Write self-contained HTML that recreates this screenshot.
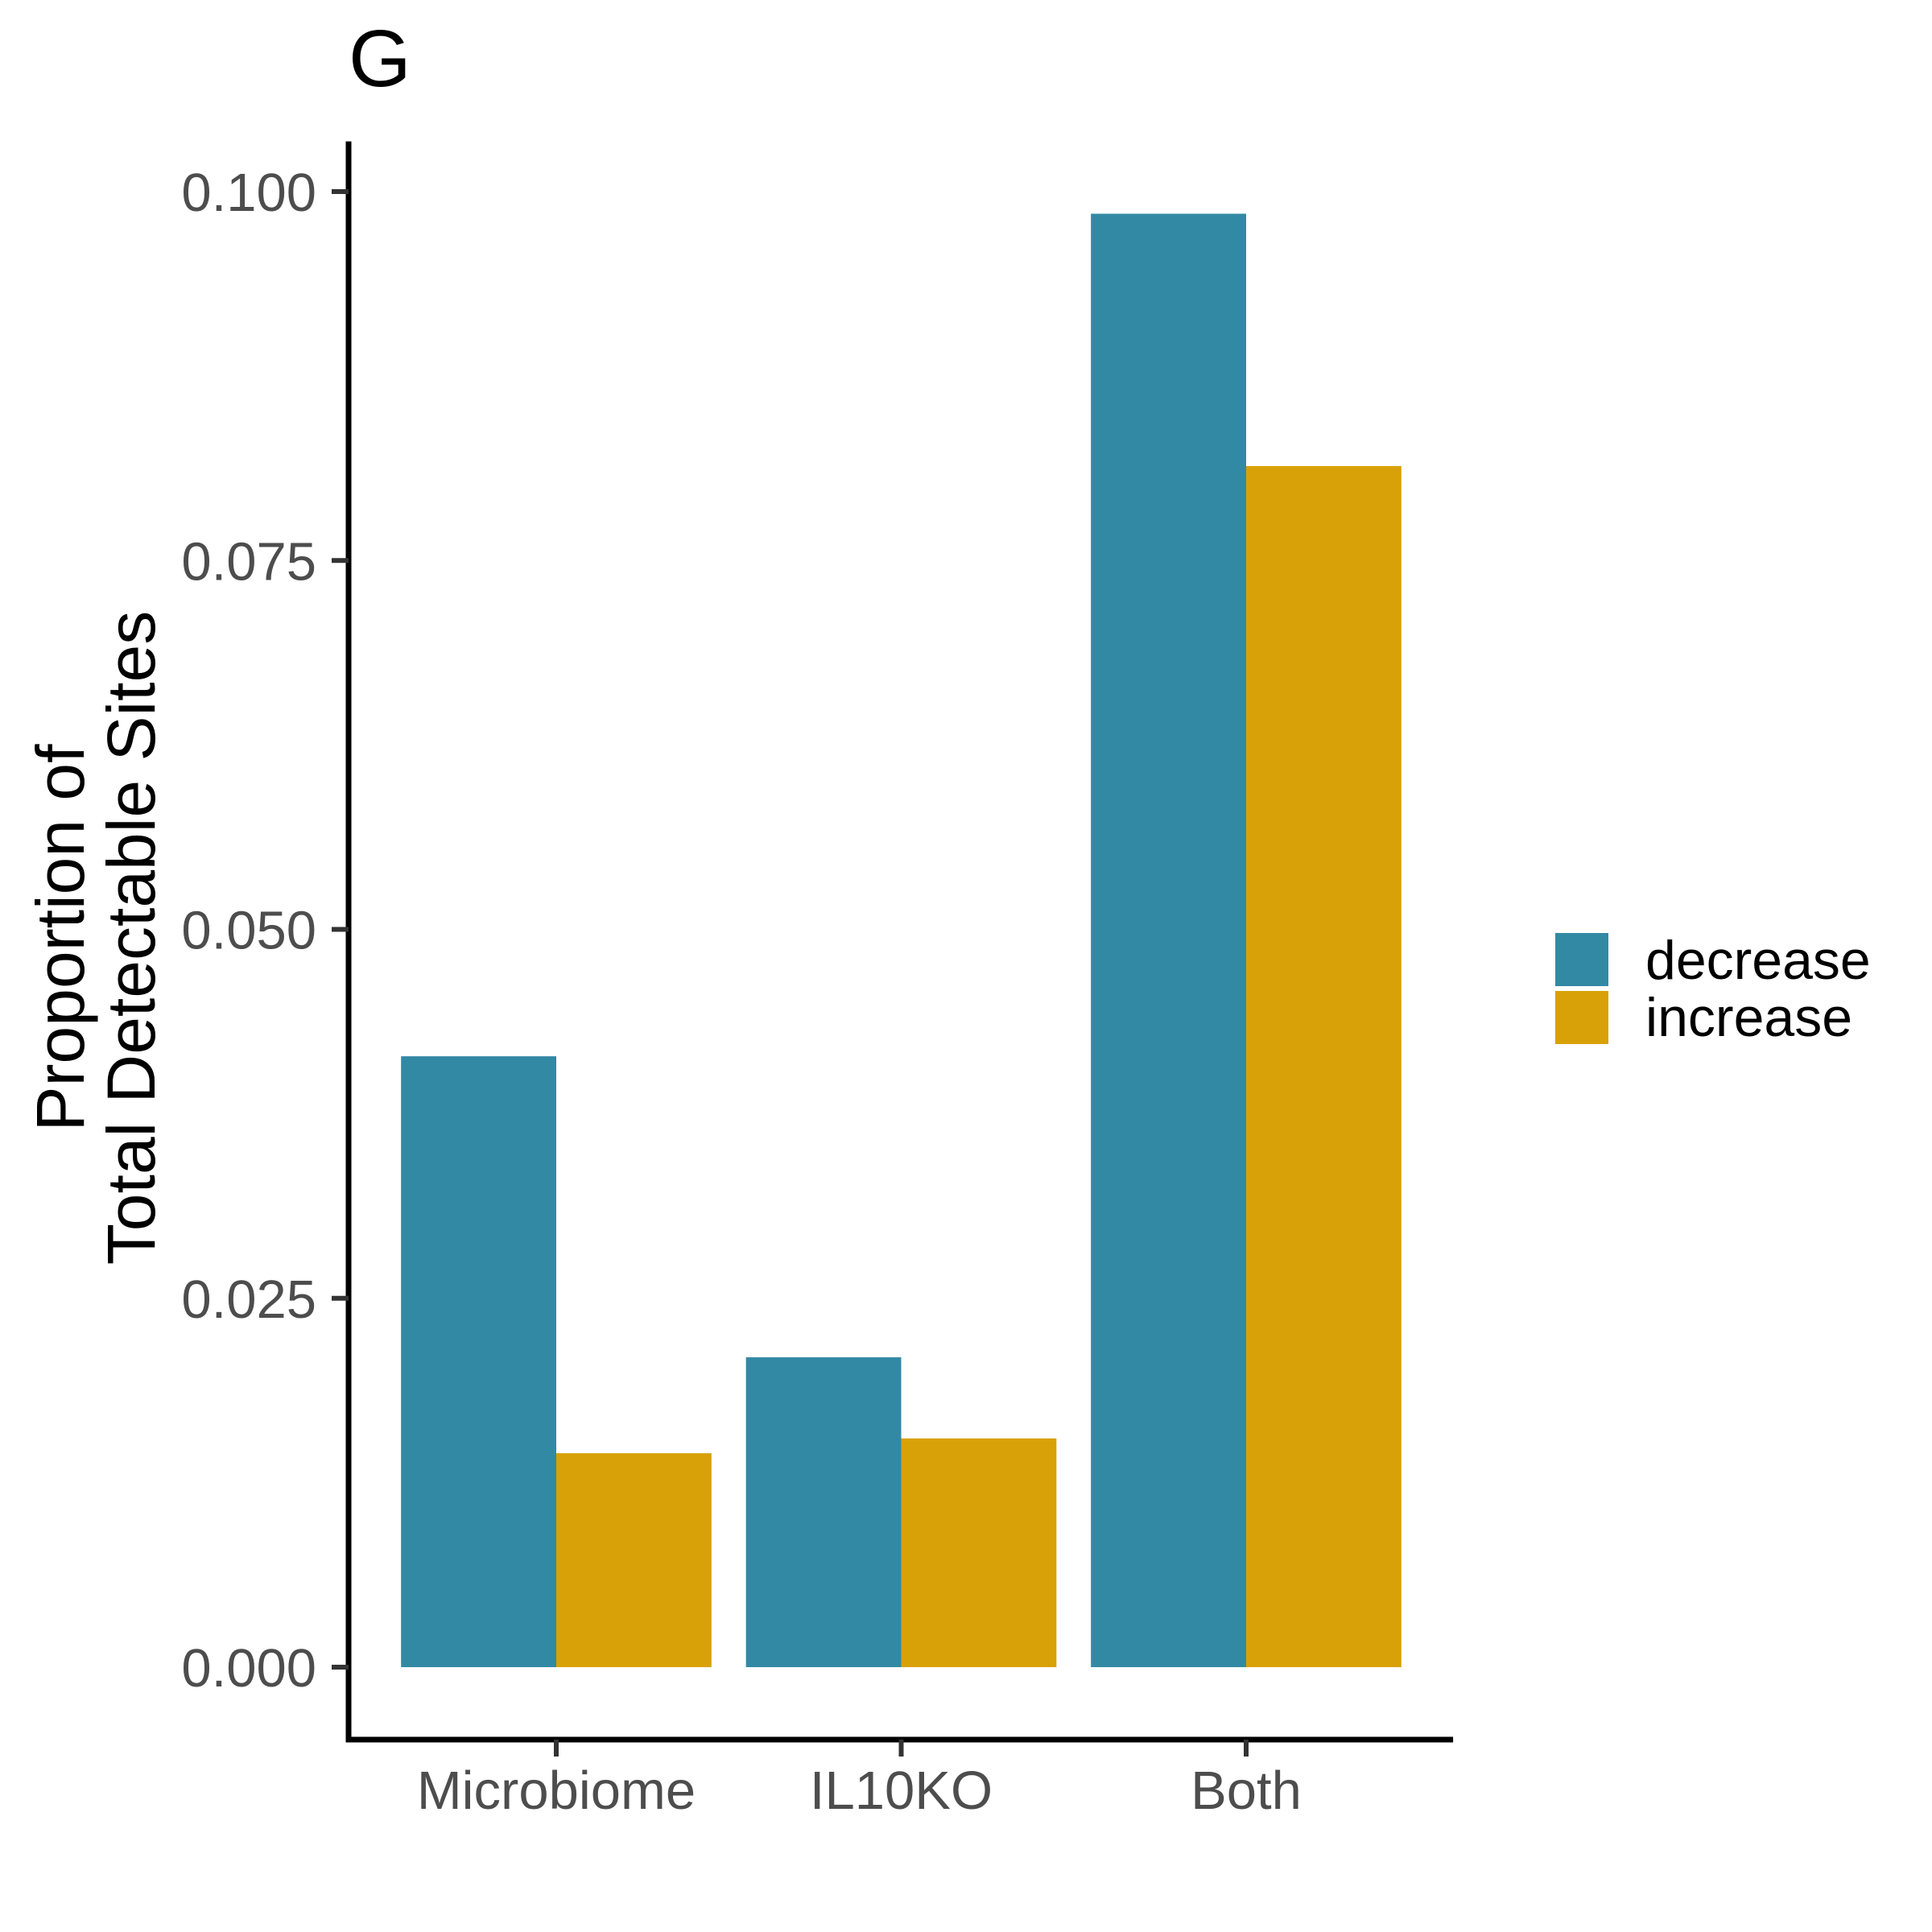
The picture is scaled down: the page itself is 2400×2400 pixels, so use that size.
<!DOCTYPE html>
<html><head><meta charset="utf-8"><style>
html,body{margin:0;padding:0;background:#fff;}
svg{display:block;}
text{font-family:"Liberation Sans",Arial,sans-serif;}
</style></head><body>
<svg id="chart" width="2400" height="2400" viewBox="0 0 2400 2400" xmlns="http://www.w3.org/2000/svg">
<rect x="0" y="0" width="2400" height="2400" fill="#ffffff"/>
<text x="433" y="107" font-size="100" fill="#000">G</text>
<g id="bars"></g>
<g id="axes"></g>
<g transform="translate(104,1165) rotate(-90)">
<text x="0" y="0" text-anchor="middle" font-size="84" fill="#000">Proportion of</text>
<text x="0" y="88" text-anchor="middle" font-size="84" fill="#000">Total Detectable Sites</text>
</g>
<g id="legend">
<rect x="1932" y="1159" width="66" height="66" fill="#3289A4"/>
<text x="2044" y="1216" font-size="68" fill="#000">decrease</text>
<rect x="1932" y="1231" width="66" height="66" fill="#D8A108"/>
<text x="2044" y="1287" font-size="68" fill="#000">increase</text>
</g>
</svg>
<script>
const categories = ["Microbiome", "IL10KO", "Both"];
const decreaseValues = [0.0414, 0.0210, 0.0985];
const increaseValues = [0.0145, 0.0155, 0.0814];
const yTicks = [0, 0.025, 0.05, 0.075, 0.1];
const yTickLabels = ["0.000", "0.025", "0.050", "0.075", "0.100"];

const NS = "http://www.w3.org/2000/svg";
const y0px = 2071, perUnit = 18330;
function yScale(v){ return y0px - v * perUnit; }
const cat1 = 691, catStep = 428.5;
function xScale(i){ return cat1 + i * catStep; }
const barW = 0.45 * catStep;

const bars = document.getElementById('bars');
function mk(tag, attrs, parent){
  const e = document.createElementNS(NS, tag);
  for (const k in attrs) e.setAttribute(k, attrs[k]);
  parent.appendChild(e);
  return e;
}
categories.forEach((c, i) => {
  const cx = xScale(i);
  const d = mk('rect', {x: cx - barW, y: yScale(decreaseValues[i]), width: barW, height: yScale(0) - yScale(decreaseValues[i]), fill: '#3289A4'}, bars);
  
  
  const inc = mk('rect', {x: cx, y: yScale(increaseValues[i]), width: barW, height: yScale(0) - yScale(increaseValues[i]), fill: '#D8A108'}, bars);
  
  
});

const axes = document.getElementById('axes');
const axisX = 433, axisBottom = 2161, axisTop = yScale(0.1034), axisRight = xScale(2) + 0.6 * catStep;
const yl = mk('line', {x1: axisX, y1: axisTop, x2: axisX, y2: axisBottom + 3.5, stroke: '#000', 'stroke-width': 7}, axes);


const xl = mk('line', {x1: axisX - 3.5, y1: axisBottom, x2: axisRight, y2: axisBottom, stroke: '#000', 'stroke-width': 7}, axes);



yTicks.forEach((v, i) => {
  const y = yScale(v);
  const t = mk('line', {x1: 412, y1: y, x2: axisX, y2: y, stroke: '#333', 'stroke-width': 6}, axes);
  
  
  const lb = mk('text', {x: 393, y: y + 24, 'text-anchor': 'end', 'font-size': 67, fill: '#4D4D4D'}, axes);
  lb.textContent = yTickLabels[i];
  
  
});
categories.forEach((c, i) => {
  const x = xScale(i);
  const t = mk('line', {x1: x, y1: axisBottom, x2: x, y2: 2182, stroke: '#333', 'stroke-width': 6}, axes);
  
  
  const lb = mk('text', {x: x, y: 2247, 'text-anchor': 'middle', 'font-size': 67, fill: '#4D4D4D'}, axes);
  lb.textContent = c;
  
  
});
</script>
</body></html>
